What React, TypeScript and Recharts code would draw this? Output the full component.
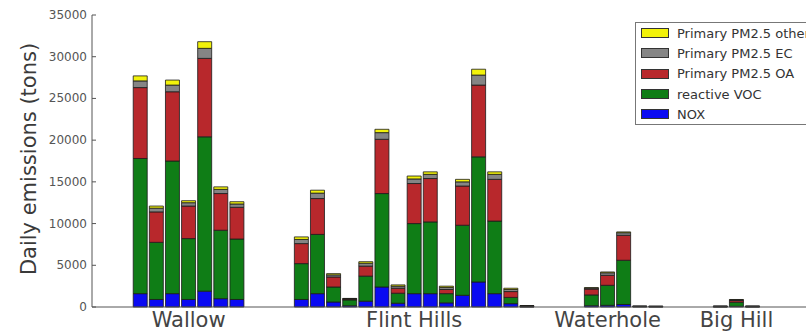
import React from "react";
import { Bar, BarChart, Legend, XAxis, YAxis } from "recharts";

// fires (x groups) and how many daily bars each one has
const groupNames = ["Wallow", "Flint Hills", "Waterhole", "Big Hill"];
const groupSizes = [7, 15, 7, 3];

// daily emissions (tons), one entry per bar, groups in the order above
// prettier-ignore
const nox = [
  1600, 900, 1600, 900, 1900, 1000, 900,
  900, 1600, 600, 150, 700, 2400, 450, 1600, 1600, 500, 1400, 3000, 1600, 400, 20,
  0, 0, 150, 200, 300, 30, 20,
  10, 80, 10,
];
// prettier-ignore
const voc = [
  16200, 6850, 15900, 7300, 18500, 8200, 7250,
  4300, 7100, 1800, 700, 3000, 11200, 1200, 8400, 8600, 1100, 8400, 15000, 8700, 750, 60,
  0, 0, 1300, 2400, 5300, 30, 30,
  40, 500, 40,
];
// prettier-ignore
const oa = [
  8500, 3650, 8300, 3900, 9400, 4400, 3800,
  2400, 4300, 1200, 100, 1200, 6500, 600, 4800, 5200, 500, 4700, 8600, 5000, 700, 40,
  0, 0, 700, 1200, 3000, 20, 20,
  30, 200, 30,
];
// prettier-ignore
const ec = [
  800, 450, 800, 400, 1200, 500, 400,
  500, 650, 250, 50, 350, 800, 250, 550, 500, 250, 500, 1200, 600, 250, 20,
  0, 0, 120, 300, 300, 10, 10,
  10, 80, 10,
];
// prettier-ignore
const other = [
  600, 250, 600, 240, 800, 300, 270,
  300, 350, 150, 30, 180, 400, 150, 350, 300, 150, 300, 700, 300, 150, 10,
  0, 0, 50, 100, 100, 5, 5,
  5, 40, 5,
];

const yTicks = [0, 5000, 10000, 15000, 20000, 25000, 30000, 35000];

const seriesKeys = ["nox", "voc", "oa", "ec", "other"];
const seriesNames = ["NOX", "reactive VOC", "Primary PM2.5 OA", "Primary PM2.5 EC", "Primary PM2.5 other"];
const COLORS = ["#0a0af2", "#0f7d16", "#b8282c", "#858585", "#f2f20a"];

// empty slots before each group, and after the last one
const SPACERS = [2, 3, 1, 3, 3];
const FONT = "DejaVu Sans";

const series = [nox, voc, oa, ec, other];
const rows: Record<string, string | number>[] = [];
const centerIds: string[] = [];
let k = 0;
groupNames.forEach((g, gi) => {
  for (let s = 0; s < SPACERS[gi]; s++) rows.push({ id: `gap-${gi}-${s}` });
  for (let b = 0; b < groupSizes[gi]; b++) {
    const id = `${g} ${b + 1}`;
    const row: Record<string, string | number> = { id };
    seriesKeys.forEach((key, si) => (row[key] = series[si][k]));
    rows.push(row);
    if (b === Math.floor(groupSizes[gi] / 2)) centerIds.push(id);
    k++;
  }
});
for (let s = 0; s < SPACERS[groupNames.length]; s++) rows.push({ id: `gap-end-${s}` });

const labelOf: Record<string, string> = Object.fromEntries(centerIds.map((id, i) => [id, groupNames[i]]));

function YTick({ x, y, payload }: any) {
  return (
    <g>
      <text x={x} y={y} dy={4} textAnchor="end" fontSize={12} fill="#555" fontFamily={FONT}>
        {payload.value}
      </text>
      <line x1={x + 5} x2={x + 9} y1={y} y2={y} stroke="#555" />
    </g>
  );
}

function YLabel() {
  return (
    <text x={36} y={159} transform="rotate(-90 36 159)" textAnchor="middle" fontSize={21} fill="#3a3a3a" fontFamily={FONT}>
      Daily emissions (tons)
    </text>
  );
}

function LegendBox() {
  const order = [4, 3, 2, 1, 0];
  return (
    <div
      style={{
        border: "1px solid #777",
        background: "#fff",
        height: 103,
        boxSizing: "border-box",
        fontFamily: FONT,
        fontSize: 13,
        color: "#333",
      }}
    >
      {order.map((i) => (
        <div key={i} style={{ display: "flex", alignItems: "center", height: 20.3, whiteSpace: "nowrap" }}>
          <span
            style={{
              display: "inline-block",
              width: 26,
              height: 8,
              marginLeft: 5,
              marginRight: 8,
              background: COLORS[i],
              border: "1px solid #333",
            }}
          />
          {seriesNames[i]}
        </div>
      ))}
    </div>
  );
}

export default function App() {
  return (
    <div style={{ position: "absolute", left: 0, top: 0, width: 806, height: 331, overflow: "hidden", background: "#fff" }}>
      <BarChart width={820} height={331} data={rows} margin={{ top: 15, right: 11, bottom: 0, left: 30 }} barSize={14}>
        <XAxis
          dataKey="id"
          ticks={centerIds}
          interval={0}
          tickFormatter={(id: string) => labelOf[id] ?? ""}
          tickLine={false}
          tickSize={0}
          tickMargin={5}
          height={24}
          padding={{ left: 8, right: 0 }}
          axisLine={{ stroke: "#555" }}
          tick={{ fontSize: 21, fill: "#444", fontFamily: FONT }}
        />
        <XAxis
          xAxisId="top"
          orientation="top"
          dataKey="id"
          ticks={centerIds}
          interval={0}
          mirror
          height={0}
          tick={false}
          tickSize={4}
          padding={{ left: 8, right: 0 }}
          axisLine={{ stroke: "#555" }}
          tickLine={{ stroke: "#555" }}
        />
        <YAxis
          domain={[0, 35000]}
          ticks={yTicks}
          width={62}
          tickLine={false}
          tickSize={0}
          tickMargin={5}
          axisLine={{ stroke: "#555" }}
          tick={<YTick />}
          label={<YLabel />}
        />
        <Legend
          layout="horizontal"
          verticalAlign="middle"
          align="center"
          content={<LegendBox />}
          wrapperStyle={{ position: "absolute", left: 635, top: 22, width: 210, height: 103 }}
        />
        {seriesKeys.map((key, i) => (
          <Bar
            key={key}
            dataKey={key}
            name={seriesNames[i]}
            stackId="e"
            fill={COLORS[i]}
            stroke="#1a1a1a"
            strokeWidth={0.8}
            isAnimationActive={false}
          />
        ))}
      </BarChart>
    </div>
  );
}
